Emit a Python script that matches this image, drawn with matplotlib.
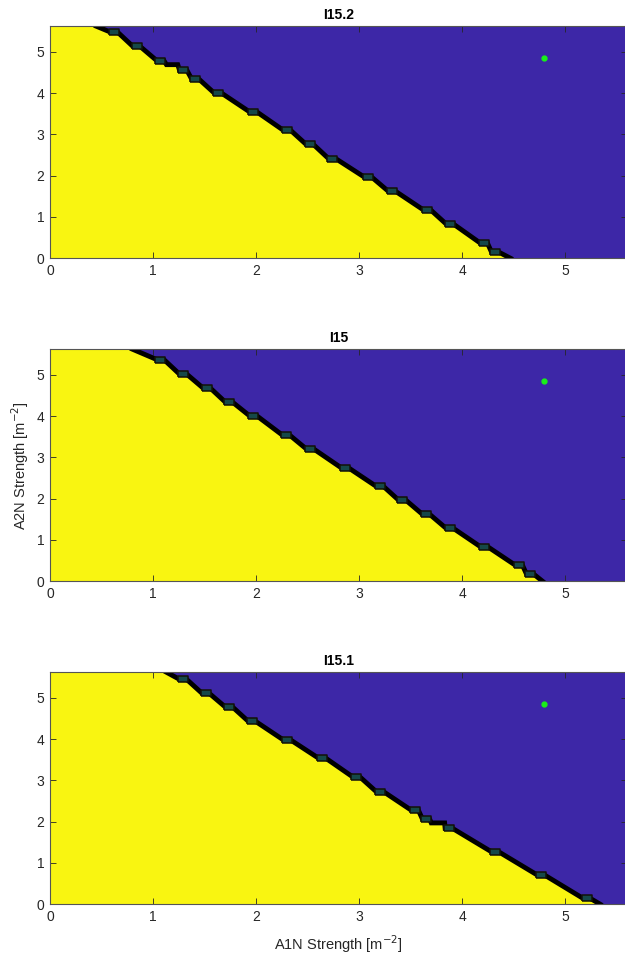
import numpy as np
import matplotlib
matplotlib.use("Agg")
import matplotlib.pyplot as plt

plt.rcParams['font.family'] = ['Liberation Sans', 'DejaVu Sans']

# ---- data ----
titles = ["I15.2", "I15", "I15.1"]

# step marker positions along the stability boundary (A1N, A2N)
marker_x1 = [0.62, 0.84, 1.07, 1.29, 1.41, 1.63, 1.97, 2.30, 2.52, 2.74, 3.09, 3.32, 3.66, 3.88, 4.21, 4.32]
marker_y1 = [5.48, 5.13, 4.79, 4.57, 4.34, 4.00, 3.55, 3.10, 2.76, 2.41, 1.96, 1.62, 1.17, 0.83, 0.37, 0.15]
marker_x2 = [1.07, 1.29, 1.52, 1.74, 1.97, 2.29, 2.52, 2.86, 3.20, 3.42, 3.65, 3.88, 4.21, 4.55, 4.66]
marker_y2 = [5.37, 5.02, 4.68, 4.33, 4.01, 3.54, 3.21, 2.75, 2.30, 1.96, 1.62, 1.28, 0.84, 0.39, 0.17]
marker_x3 = [1.29, 1.51, 1.74, 1.96, 2.30, 2.64, 2.97, 3.20, 3.54, 3.65, 3.87, 4.32, 4.77, 5.21]
marker_y3 = [5.45, 5.11, 4.77, 4.43, 3.98, 3.54, 3.09, 2.73, 2.28, 2.06, 1.84, 1.27, 0.70, 0.14]

# extra flat shelves on the boundary
shelf_x1 = [1.13, 1.24]
shelf_y1 = [4.69, 4.69]
shelf_x2 = []
shelf_y2 = []
shelf_x3 = [3.70, 3.83]
shelf_y3 = [1.97, 1.97]

# where the boundary meets the top edge and the bottom edge
top_x = [0.45, 0.80, 1.13]
bottom_x = [4.47, 4.78, 5.34]

# working point
point_x = [4.79]
point_y = [4.86]

xmax, ymax = 5.6, 5.62
xticks = [0, 1, 2, 3, 4, 5]
yticks = [0, 1, 2, 3, 4, 5]

markers_x = [marker_x1, marker_x2, marker_x3]
markers_y = [marker_y1, marker_y2, marker_y3]
shelves_x = [shelf_x1, shelf_x2, shelf_x3]
shelves_y = [shelf_y1, shelf_y2, shelf_y3]

# ---- style ----
YELLOW = '#F9F511'
BLUE = '#3D27A7'
AXC = '#262626'
step_half = 0.035
rect_marker = [(-1.4, -1.0), (1.4, -1.0), (1.4, 1.0), (-1.4, 1.0), (-1.4, -1.0)]

fig = plt.figure(figsize=(6.25, 9.58), dpi=100)
bottoms = [0.7304, 0.3933, 0.0561]
left, width, height = 0.08, 0.9232, 0.2422

for i in range(3):
    ax = fig.add_axes([left, bottoms[i], width, height])
    ax.set_facecolor(BLUE)
    mx = markers_x[i]
    my = markers_y[i]
    pts = [(top_x[i], ymax)]
    for x, y in zip(mx, my):
        pts.append((x - step_half, y))
        pts.append((x + step_half, y))
    for x, y in zip(shelves_x[i], shelves_y[i]):
        pts.append((x, y))
    pts.append((bottom_x[i], 0.0))
    pts.sort(key=lambda p: p[0])
    bx = np.array([p[0] for p in pts])
    by = np.array([p[1] for p in pts])
    fx = np.concatenate([[0.0], bx])
    fy = np.concatenate([[ymax], by])
    ax.fill_between(fx, 0, fy, color=YELLOW, lw=0, zorder=1)
    ax.plot(bx, by, color='black', lw=3.5, solid_joinstyle='miter', zorder=2)
    ax.plot(mx, my, ls='none', marker=rect_marker, ms=6.5, mfc='#154848',
            mec='#121208', mew=1.1, zorder=3)
    ax.plot(point_x, point_y, ls='none', marker='o', ms=3.5, mfc='#19F019',
            mec='#19F019', zorder=4)

    ax.set_xlim(0, xmax)
    ax.set_ylim(0, ymax)
    ax.set_xticks(xticks)
    ax.set_yticks(yticks)
    ax.tick_params(direction='in', length=4, width=0.6, colors=AXC,
                   labelsize=10, top=True, right=True, pad=4)
    for tl in ax.get_xticklabels() + ax.get_yticklabels():
        tl.set_color(AXC)
    for s in ax.spines.values():
        s.set_color('#555555')
        s.set_linewidth(0.8)
    ax.set_title(titles[i], fontsize=10, fontweight='bold', pad=5, color='black')
    if i == 1:
        ax.set_ylabel('A2N Strength [m$^{-2}$]', fontsize=10.5, color=AXC, labelpad=4)
    if i == 2:
        ax.set_xlabel('A1N Strength [m$^{-2}$]', fontsize=10.5, color=AXC, labelpad=7)

fig.savefig('out.png', dpi=100)
